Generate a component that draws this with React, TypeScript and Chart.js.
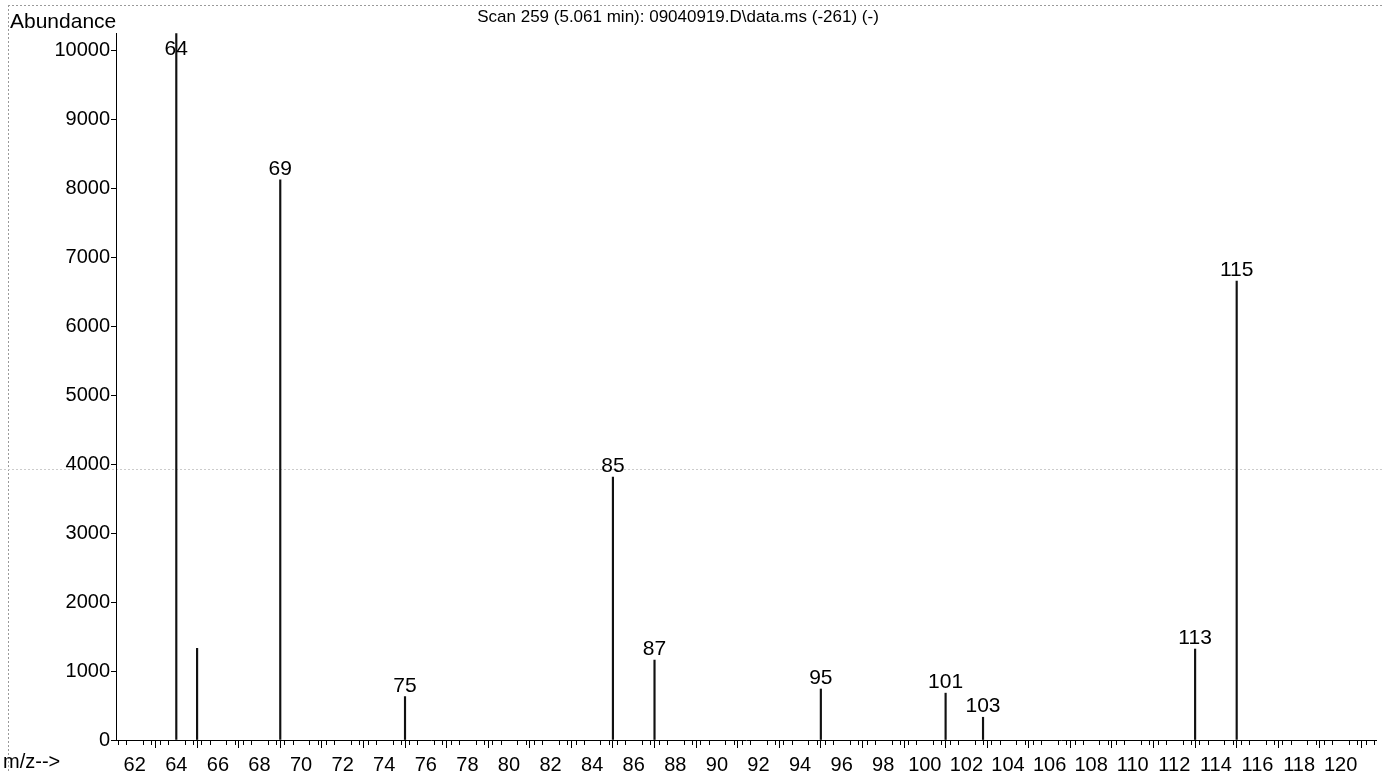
import React, { useEffect, useRef } from "react";
import { Chart, registerables } from "chart.js";

Chart.register(...registerables);

// ---- data ----
const mzValues = [64, 65, 69, 75, 85, 87, 95, 101, 102.8, 113, 115];
const abundances = [10250, 1330, 8130, 630, 3815, 1160, 740, 680, 330, 1320, 6660];
const peakLabels = ["64", "", "69", "75", "85", "87", "95", "101", "103", "113", "115"];

const yTickValues = [0, 1000, 2000, 3000, 4000, 5000, 6000, 7000, 8000, 9000, 10000];
const xMin = 61.1;
const xMax = 121.7;
const xMajorStep = 2;
const xMinorStep = 0.4;
const yMin = 0;
const yMax = 10260;

const titleText = "Scan 259 (5.061 min): 09040919.D\\data.ms (-261) (-)";
const yAxisTitle = "Abundance";
const xAxisTitle = "m/z-->";

const FONT = "'Liberation Sans', Arial, sans-serif";

const decorPlugin = {
  id: "decor",
  beforeDraw(chart: any) {
    const ctx = chart.ctx;
    ctx.save();
    ctx.strokeStyle = "#9a9a9a";
    ctx.lineWidth = 1;
    ctx.setLineDash([2, 2]);
    ctx.beginPath();
    ctx.moveTo(8, 5.5);
    ctx.lineTo(chart.width, 5.5);
    ctx.moveTo(8.5, 5);
    ctx.lineTo(8.5, chart.height);
    ctx.stroke();
    ctx.strokeStyle = "#cccccc";
    ctx.beginPath();
    ctx.moveTo(0, 469.5);
    ctx.lineTo(chart.width, 469.5);
    ctx.stroke();
    ctx.restore();
  },
  afterDraw(chart: any) {
    const ctx = chart.ctx;
    const area = chart.chartArea;
    const xs = chart.scales.x;
    ctx.save();
    // minor ticks on m/z axis
    ctx.strokeStyle = "#000";
    ctx.lineWidth = 1;
    ctx.beginPath();
    const kStart = Math.ceil((xs.min - 62) / xMinorStep);
    const kEnd = Math.floor((xs.max - 62) / xMinorStep);
    for (let k = kStart; k <= kEnd; k++) {
      if (k % 5 === 0) continue;
      const v = 62 + k * xMinorStep;
      const px = Math.round(xs.getPixelForValue(v)) + 0.5;
      ctx.moveTo(px, area.bottom);
      ctx.lineTo(px, area.bottom + 5);
    }
    ctx.stroke();

    // texts
    ctx.fillStyle = "#000";
    ctx.textBaseline = "alphabetic";
    ctx.textAlign = "left";
    ctx.font = `21px ${FONT}`;
    ctx.fillText(yAxisTitle, 10, 28);
    ctx.font = `20px ${FONT}`;
    ctx.fillText(xAxisTitle, 3, 768);
    ctx.textAlign = "center";
    ctx.font = `17px ${FONT}`;
    ctx.fillText(titleText, 678, 22);

    // peak labels
    ctx.font = `21px ${FONT}`;
    const meta = chart.getDatasetMeta(0);
    meta.data.forEach((el: any, i: number) => {
      const lbl = peakLabels[i];
      if (!lbl) return;
      const y = Math.max(el.y - 5, area.top + 22);
      ctx.fillText(lbl, el.x, y);
    });
    ctx.restore();
  },
};

export default function App() {
  const canvasRef = useRef<HTMLCanvasElement | null>(null);

  useEffect(() => {
    const canvas = canvasRef.current;
    if (!canvas) return;
    const chart = new Chart(canvas, {
      type: "bar",
      data: {
        datasets: [
          {
            data: mzValues.map((x, i) => ({ x, y: abundances[i] })),
            backgroundColor: "#111111",
            borderWidth: 0,
            barThickness: 1.5,
          } as any,
        ],
      },
      options: {
        animation: false,
        responsive: false,
        maintainAspectRatio: false,
        layout: { padding: { top: 33, right: 8, left: 0, bottom: 0 } },
        plugins: {
          legend: { display: false },
          tooltip: { enabled: false },
          title: { display: false },
        },
        scales: {
          x: {
            type: "linear",
            min: xMin,
            max: xMax,
            offset: false,
            afterFit: (s: any) => {
              s.height = 31;
            },
            ticks: {
              stepSize: xMajorStep,
              includeBounds: false,
              autoSkip: false,
              maxRotation: 0,
              minRotation: 0,
              color: "#000",
              padding: 5,
              font: { family: FONT, size: 20 },
              callback: (v: any) => String(v),
            },
            grid: {
              display: true,
              drawOnChartArea: false,
              drawTicks: true,
              tickLength: 8,
              color: "#000",
            },
            border: { display: true, color: "#000", width: 1 },
          },
          y: {
            type: "linear",
            min: yMin,
            max: yMax,
            afterFit: (s: any) => {
              s.width = 116;
            },
            afterBuildTicks: (s: any) => {
              s.ticks = yTickValues.map((v) => ({ value: v }));
            },
            ticks: {
              autoSkip: false,
              color: "#000",
              padding: 1,
              font: { family: FONT, size: 20 },
              callback: (v: any) => String(v),
            },
            grid: {
              display: true,
              drawOnChartArea: false,
              drawTicks: true,
              tickLength: 5,
              color: "#000",
            },
            border: { display: true, color: "#000", width: 1 },
          },
        },
      } as any,
      plugins: [decorPlugin],
    });
    return () => chart.destroy();
  }, []);

  return (
    <div style={{ position: "fixed", left: 0, top: 0, width: 1384, height: 771, background: "#fff" }}>
      <canvas ref={canvasRef} width={1384} height={771} style={{ display: "block" }} />
    </div>
  );
}
